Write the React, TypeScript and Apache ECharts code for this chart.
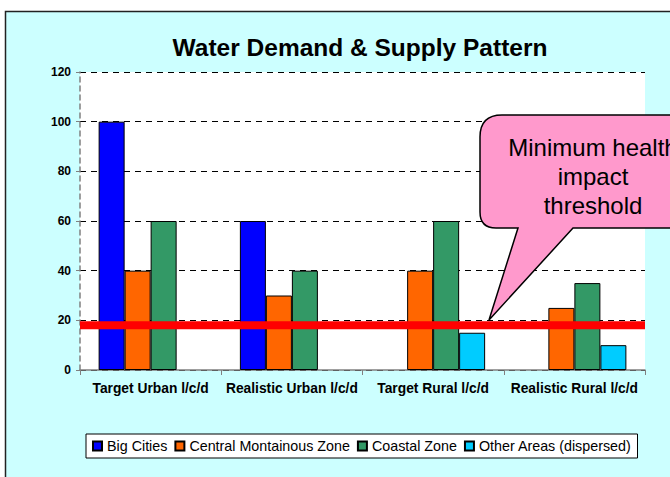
import React, { useEffect, useRef } from "react";
import * as echarts from "echarts";

const categories = [
  "Target Urban l/c/d",
  "Realistic Urban l/c/d",
  "Target Rural l/c/d",
  "Realistic Rural l/c/d",
];
const seriesNames = [
  "Big Cities",
  "Central Montainous Zone",
  "Coastal Zone",
  "Other Areas (dispersed)",
];
const bigCities = [100, 60, null, null];
const centralMontainous = [40, 30, 40, 25];
const coastalZone = [60, 40, 60, 35];
const otherAreas = [null, null, 15, 10];
const threshold = 18;
const thresholdSpan = [0, 1];
const titleText = "Water Demand & Supply Pattern";
const calloutText = "Minimum health\nimpact\nthreshold";
const colors = ["#0000FF", "#FF6600", "#339966", "#00CCFF"];

const FONT = "'Liberation Sans', Arial, sans-serif";

echarts.graphic.registerShape(
  "callout",
  echarts.graphic.extendPath(
    "M 502 115 L 720 115 L 720 228 L 573 228 L 489 320 L 518 228 L 496 228 Q 480 228 480 212 L 480 137 Q 480 115 502 115 Z",
    {}
  )
);

export default function App() {
  const ref = useRef<HTMLDivElement>(null);
  useEffect(() => {
    if (!ref.current) return;
    const chart = echarts.init(ref.current, null, { renderer: "svg" });
    const data = [bigCities, centralMontainous, coastalZone, otherAreas];
    const barSeries = seriesNames.map((name, i) => ({
      name,
      type: "bar",
      data: data[i],
      barWidth: 26,
      barGap: "0%",
      itemStyle: { color: colors[i], borderColor: "#000", borderWidth: 1 },
    }));
    chart.setOption({
      animation: false,
      backgroundColor: "#FFFFFF",
      textStyle: { fontFamily: FONT },
      title: {
        text: titleText,
        left: 355,
        top: 30,
        textAlign: "center",
        textStyle: { fontFamily: FONT, fontSize: 24.5, fontWeight: "bold", color: "#000" },
      },
      grid: {
        left: 80,
        right: 25,
        top: 72,
        bottom: 107,
        show: true,
        backgroundColor: "#FFFFFF",
        borderWidth: 0,
        containLabel: false,
      },
      legend: {
        left: 86,
        top: 434,
        icon: "rect",
        itemWidth: 9,
        itemHeight: 9,
        itemGap: 7,
        padding: [5, 6, 5, 6],
        backgroundColor: "#FFFFFF",
        borderColor: "#000",
        borderWidth: 1,
        textStyle: { fontFamily: FONT, fontSize: 14.3, color: "#000" },
        data: seriesNames,
      },
      xAxis: [
        {
          type: "category",
          data: categories,
          axisLine: { lineStyle: { color: "#808080", width: 1.5 } },
          axisTick: { show: true, length: 5, lineStyle: { color: "#808080" } },
          axisLabel: {
            margin: 11,
            fontFamily: FONT,
            fontSize: 13.8,
            fontWeight: "bold",
            color: "#000",
            interval: 0,
          },
        },
        {
          type: "value",
          min: 0,
          max: 1,
          show: false,
        },
      ],
      yAxis: {
        type: "value",
        min: 0,
        max: 120,
        interval: 20,
        axisLine: { show: true, lineStyle: { color: "#808080", width: 1.5, type: [5, 4] } },
        axisTick: { show: true, length: 4, lineStyle: { color: "#808080" } },
        axisLabel: {
          margin: 9,
          fontFamily: FONT,
          fontSize: 12,
          fontWeight: "bold",
          color: "#000",
        },
        splitLine: { show: true, lineStyle: { color: "#000", width: 1, type: [6, 5] } },
      },
      series: [
        ...barSeries,
        {
          name: "threshold",
          type: "line",
          xAxisIndex: 1,
          data: thresholdSpan.map((x) => [x, threshold]),
          symbol: "none",
          silent: true,
          z: 5,
          lineStyle: { color: "#FF0000", width: 8, cap: "butt" },
        },
      ],
      graphic: [
        {
          type: "rect",
          z: -10,
          shape: { x: 5.5, y: 11.5, width: 720, height: 520 },
          style: { fill: "#CCFFFF", stroke: "#222", lineWidth: 1.5 },
        },
        {
          type: "callout",
          x: 0,
          y: 0,
          z: 100,
          style: { fill: "#FF99CC", stroke: "#000", lineWidth: 1.5 },
        },
        {
          type: "text",
          z: 101,
          x: 593,
          y: 176,
          style: {
            text: calloutText,
            fontFamily: FONT,
            fontSize: 24,
            lineHeight: 29,
            fill: "#000",
            align: "center",
            verticalAlign: "middle",
          },
        },
      ],
    });
    return () => chart.dispose();
  }, []);
  return (
    <div
      ref={ref}
      style={{ position: "fixed", left: 0, top: 0, width: 670, height: 477 }}
    />
  );
}
